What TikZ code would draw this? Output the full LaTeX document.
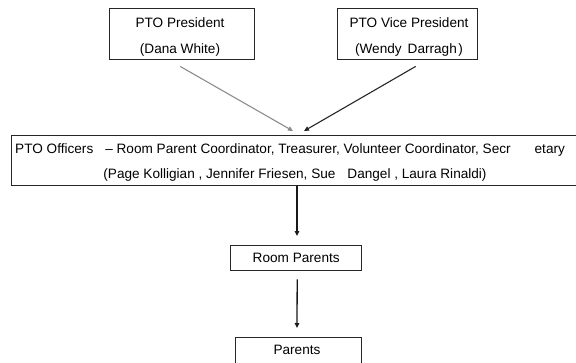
\documentclass[tikz,border=0pt]{standalone}
\usepackage{fontspec}
\setmainfont{Liberation Sans}
\usetikzlibrary{arrows.meta,calc}
\begin{document}
\begin{tikzpicture}[x=1pt,y=-1pt,
  font=\fontsize{13.6}{16}\selectfont,
  box/.style={draw=black!85, line width=1.4pt, inner sep=0pt, anchor=north west},
  txt/.style={inner sep=0pt, anchor=base},
  arr/.style={draw=black!90, line width=1.3pt, -{Triangle[length=5pt,width=4.5pt]}},
  garr/.style={draw=black!45, line width=1.1pt, -{Triangle[length=5pt,width=4.5pt]}},
  darr/.style={draw=black!85, line width=1.1pt, -{Triangle[length=5pt,width=4.5pt]}}]
\useasboundingbox (0,0) rectangle (576,362);
\clip (0,0) rectangle (576,362);
% top boxes
\node[box, minimum width=145pt, minimum height=51pt] (pres) at (109,8) {};
\node[txt] (presA) at (180,27) {PTO President};
\node[txt] (presB) at (180,53) {(Dana White)};
\node[box, minimum width=140pt, minimum height=51pt] (vice) at (337,8) {};
\node[txt] (viceA) at (409,27) {PTO Vice President};
\node[txt] (viceB) at (409,53) {(Wendy\hspace{6pt}Darragh\hspace{1.5pt})};
% officers
\node[box, minimum width=600pt, minimum height=50pt] (off) at (11,135) {};
\node[txt, anchor=base west] (offA) at (15,153) {PTO Officers\hspace{12pt}– Room Parent Coordinator, Treasurer, Volunteer Coordinator, Secr\hspace{24pt}etary};
\node[txt] (offB) at (295,178) {(Page Kolligian , Jennifer Friesen, Sue\hspace{12pt}Dangel , Laura Rinaldi)};
% lower boxes
\node[box, minimum width=131pt, minimum height=25pt] (rp) at (230,245) {Room Parents};
\node[box, minimum width=126pt, minimum height=45pt] (par) at (235,337) {};
\node[txt] (parT) at (297,354) {Parents};
% connector ends
\coordinate (a1s) at ($(pres.south)+(-2,6)$);
\coordinate (a1e) at (293,131);
\coordinate (a2s) at ($(vice.south)+(8,6)$);
\coordinate (a2e) at (304,131);
\coordinate (o1) at ($(off.south west)+(286,0)$);
\coordinate (o2) at (297,236);
\coordinate (r1) at ($(rp.south)+(1,8)$);
\coordinate (r2) at (297,328);
\draw[garr] (a1s) -- (a1e);
\draw[darr] (a2s) -- (a2e);
\draw[arr] (o1) -- (o2);
\draw[arr] (r1) -- (r2);
\end{tikzpicture}
\end{document}
